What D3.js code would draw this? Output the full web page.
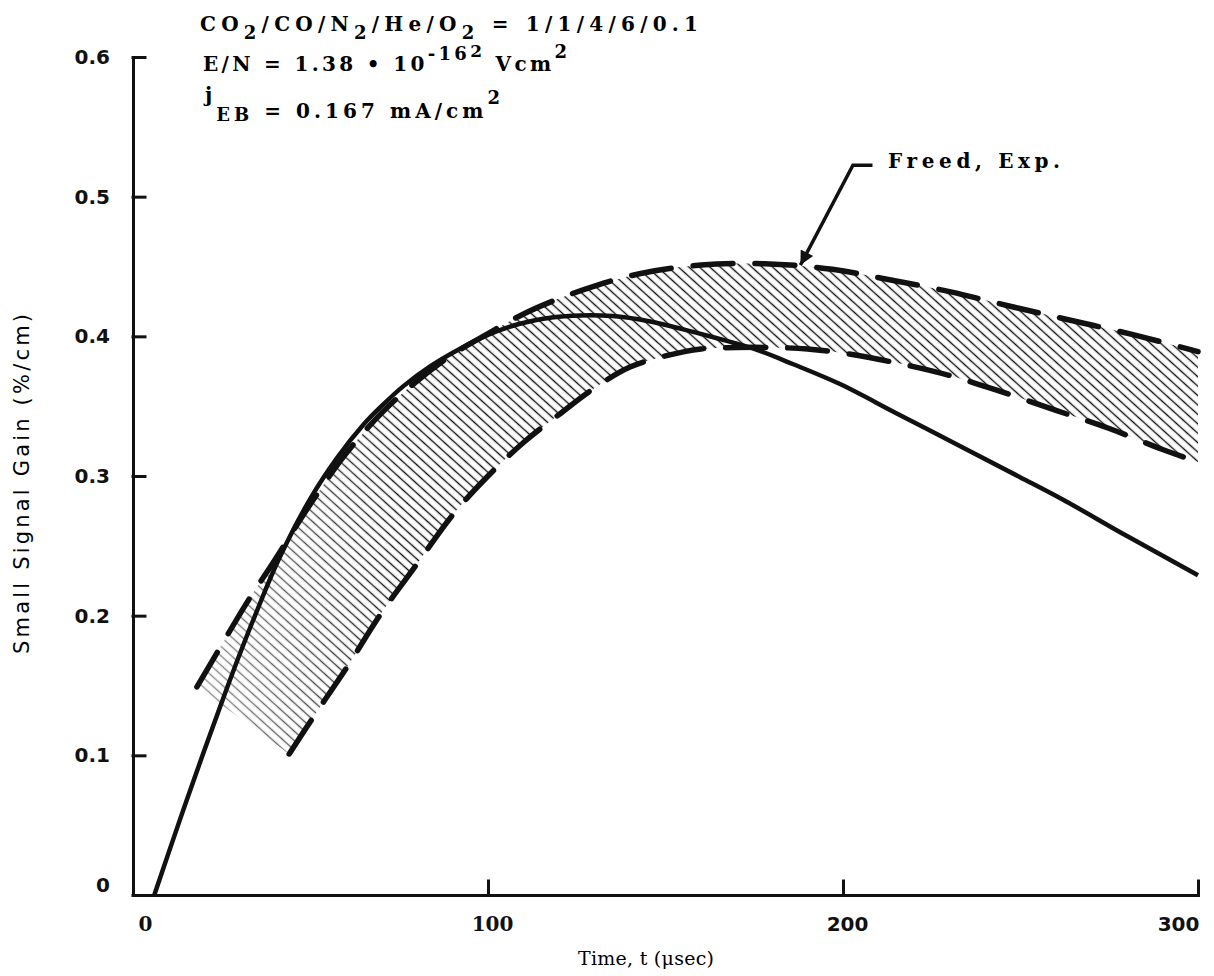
<!DOCTYPE html>
<html>
<head>
<meta charset="utf-8">
<script src="https://cdn.jsdelivr.net/npm/d3@7"></script>
<style>
body { margin: 0; background: #fff; }
svg { display: block; }
.axis path, .axis line { stroke: #111; stroke-width: 3; }
.axis text { fill: #111; }
</style>
</head>
<body>
<svg id="chart"></svg>
<script>
// tick values
const timeTicks = [0, 100, 200, 300];
const gainTicks = [0, 0.1, 0.2, 0.3, 0.4, 0.5, 0.6];

// theory curve (solid)
const theoryTime = [6, 10, 15, 20, 25, 30, 35, 41, 50, 57.5, 65, 70, 76, 84, 92, 100, 109, 118, 126, 135, 145, 155, 164, 175, 186, 199, 215, 234, 250, 262, 280, 300];
const theoryGain = [0, 0.030, 0.067, 0.103, 0.138, 0.172, 0.204, 0.240, 0.284, 0.313, 0.337, 0.350, 0.364, 0.379, 0.391, 0.401, 0.409, 0.4135, 0.415, 0.4145, 0.411, 0.405, 0.399, 0.391, 0.380, 0.366, 0.345, 0.320, 0.299, 0.283, 0.257, 0.229];

// Freed, Exp. band - upper bound
const upperTime = [18, 24.5, 32, 40, 50, 60, 70, 80, 90, 100, 110, 120, 130, 143, 160, 178, 197, 212, 230, 248, 265, 282, 300];
const upperGain = [0.149, 0.177, 0.209, 0.240, 0.280, 0.316, 0.345, 0.368, 0.387, 0.402, 0.416, 0.427, 0.436, 0.445, 0.451, 0.452, 0.448, 0.441, 0.432, 0.421, 0.411, 0.401, 0.389];

// Freed, Exp. band - lower bound
const lowerTime = [44, 52, 60, 70, 80, 90, 100, 110, 120, 130, 140, 150, 160, 170, 180, 190, 200, 215, 230, 245, 260, 275, 290, 300];
const lowerGain = [0.101, 0.132, 0.162, 0.202, 0.237, 0.272, 0.300, 0.324, 0.344, 0.363, 0.378, 0.386, 0.391, 0.392, 0.392, 0.391, 0.388, 0.381, 0.372, 0.360, 0.347, 0.334, 0.319, 0.310];

const width = 1214, height = 976;
const serif = '"DejaVu Serif", serif';
const sans = '"DejaVu Sans", sans-serif';

const svg = d3.select('#chart').attr('width', width).attr('height', height);
const x = d3.scaleLinear().domain([0, 300]).range([133, 1198]);
const y = d3.scaleLinear().domain([0, 0.6]).range([895, 57]);

const zip = (ts, gs) => ts.map((t, i) => ({ t: t, g: gs[i] }));
const theory = zip(theoryTime, theoryGain);
const upper = zip(upperTime, upperGain);
const lower = zip(lowerTime, lowerGain);

const line = d3.line().x(d => x(d.t)).y(d => y(d.g)).curve(d3.curveCatmullRom.alpha(0.5));

// hatch pattern + fade on the left part of the band
const defs = svg.append('defs');
const pat = defs.append('pattern').attr('id', 'hatch').attr('patternUnits', 'userSpaceOnUse')
    .attr('width', 7).attr('height', 7).attr('patternTransform', 'rotate(42)');
pat.append('line').attr('x1', -1).attr('x2', 8).attr('y1', 3.5).attr('y2', 3.5)
    .attr('stroke', '#111').attr('stroke-width', 1.4);
const grad = defs.append('linearGradient').attr('id', 'fade').attr('gradientUnits', 'userSpaceOnUse')
    .attr('x1', x(20)).attr('x2', x(75)).attr('y1', 0).attr('y2', 0);
grad.append('stop').attr('offset', 0).attr('stop-color', '#fff').attr('stop-opacity', 0.45);
grad.append('stop').attr('offset', 1).attr('stop-color', '#fff').attr('stop-opacity', 1);
defs.append('mask').attr('id', 'fadeMask').append('rect')
    .attr('width', width).attr('height', height).attr('fill', 'url(#fade)');

const bandPath = line(upper) + line(lower.slice().reverse()).replace(/^M/, 'L') + 'Z';
svg.append('path').attr('d', bandPath).attr('fill', 'url(#hatch)').attr('mask', 'url(#fadeMask)');

// axes
const yAxis = d3.axisLeft(y).tickValues(gainTicks).tickSize(-12).tickSizeOuter(0).tickPadding(23)
    .tickFormat(d => d === 0 ? '0' : d.toFixed(1));
const yG = svg.append('g').attr('class', 'axis').attr('transform', `translate(${x(0)},0)`).call(yAxis);
yG.selectAll('text').style('font-family', sans).style('font-size', '20px').style('font-weight', 'bold')
    .attr('dy', d => d === 0 ? '-0.2em' : '0.32em');

const xAxis = d3.axisBottom(x).tickValues(timeTicks).tickSize(-14).tickSizeOuter(0).tickPadding(22);
const xG = svg.append('g').attr('class', 'axis').attr('transform', `translate(0,${y(0)})`).call(xAxis);
xG.selectAll('text').style('font-family', d => d >= 200 ? sans : serif).style('font-size', '20px')
    .style('font-weight', 'bold')
    .attr('dx', d => d === 0 ? 12 : d === 300 ? -20 : 4);
svg.selectAll('.axis line, .axis path').attr('stroke-linecap', 'square');

// curves
svg.append('path').attr('d', line(theory)).attr('fill', 'none')
    .attr('stroke', '#111').attr('stroke-width', 4.5);
[upper, lower].forEach(s => {
    svg.append('path').attr('d', line(s)).attr('fill', 'none')
        .attr('stroke', '#111').attr('stroke-width', 5.5)
        .attr('stroke-linecap', 'round').attr('stroke-dasharray', '40,22');
});

// axis titles
svg.append('text').attr('x', 646).attr('y', 965).attr('text-anchor', 'middle')
    .style('font-family', serif).style('font-size', '19px')
    .attr('textLength', 136).text('Time, t (\u03BCsec)');
svg.append('text').attr('transform', 'translate(29,484) rotate(-90)').attr('text-anchor', 'middle')
    .style('font-family', sans).style('font-size', '21px').attr('textLength', 340)
    .text('Small Signal Gain (%/cm)');

// conditions block
function runs(sel, parts) {
    let prev = 0;
    parts.forEach(p => {
        const shift = p.s || 0;
        sel.append('tspan').attr('dy', shift - prev).style('font-size', (p.f || 20) + 'px').text(p.t);
        prev = shift;
    });
}
const t1 = svg.append('text').attr('x', 200).attr('y', 31).attr('textLength', 498)
    .style('font-family', serif).style('font-weight', 'bold');
runs(t1, [{ t: 'CO' }, { t: '2', s: 8, f: 18 }, { t: '/CO/N' }, { t: '2', s: 8, f: 18 },
    { t: '/He/O' }, { t: '2', s: 8, f: 18 }, { t: ' = 1/1/4/6/0.1' }]);
const t2 = svg.append('text').attr('x', 203).attr('y', 71).attr('textLength', 364)
    .style('font-family', serif).style('font-weight', 'bold');
runs(t2, [{ t: 'E/N = 1.38 \u2022 10' }, { t: '-16', s: -11, f: 18 }, { t: '2', s: -14, f: 17 },
    { t: ' Vcm' }, { t: '2', s: -13, f: 18 }]);
const t3 = svg.append('text').attr('x', 205).attr('y', 118).attr('textLength', 295)
    .style('font-family', serif).style('font-weight', 'bold');
runs(t3, [{ t: 'j', s: -16 }, { t: 'EB', s: 3, f: 18 }, { t: ' = 0.167 mA/cm' }, { t: '2', s: -14, f: 18 }]);

// Freed, Exp. label with leader arrow
defs.append('marker').attr('id', 'arrow').attr('viewBox', '0 0 10 10').attr('refX', 10).attr('refY', 5)
    .attr('markerWidth', 5).attr('markerHeight', 4).attr('markerUnits', 'strokeWidth').attr('orient', 'auto')
    .append('path').attr('d', 'M0,0L10,5L0,10Z').attr('fill', '#111');
const tip = [x(188), y(0.451)];
const elbow = [x(202.8), y(0.5225)];
svg.append('path')
    .attr('d', `M${x(208.3)},${elbow[1]}L${elbow[0]},${elbow[1]}L${tip[0]},${tip[1]}`)
    .attr('fill', 'none').attr('stroke', '#111').attr('stroke-width', 3.5).attr('marker-end', 'url(#arrow)');
svg.append('text').attr('x', x(212.7)).attr('y', y(0.5204)).attr('textLength', 172)
    .style('font-family', serif).style('font-size', '20px').style('font-weight', 'bold').text('Freed, Exp.');
</script>
</body>
</html>
